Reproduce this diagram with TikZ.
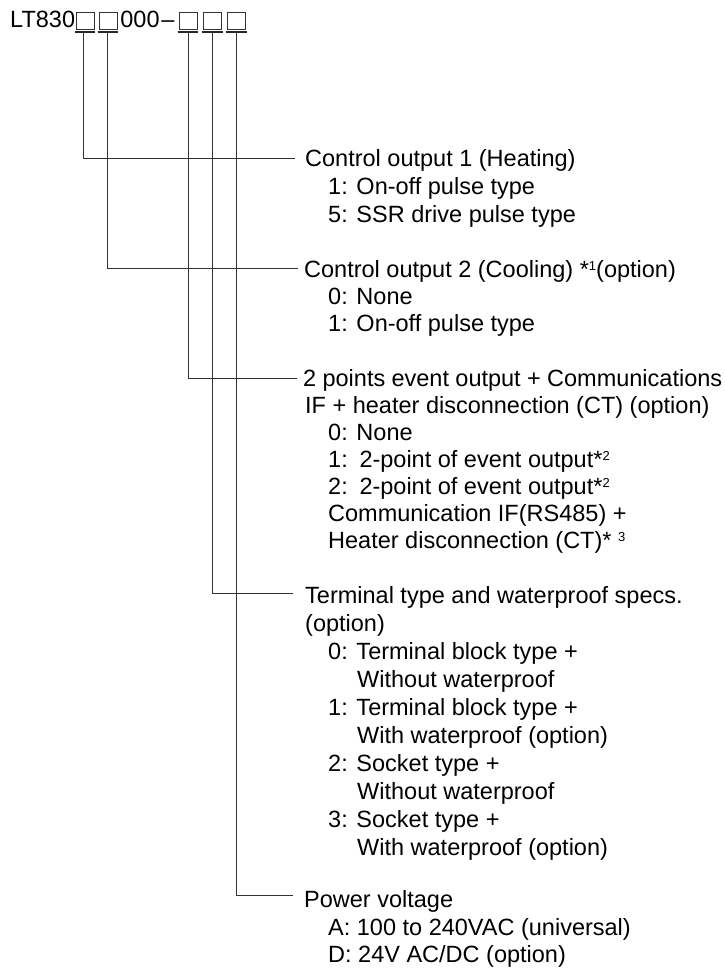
\documentclass[tikz,border=0pt]{standalone}
\usepackage{fontspec}
\setmainfont{Liberation Sans}
\newcommand\mysup[1]{\raisebox{7bp}{\fontsize{13bp}{13bp}\selectfont #1}}
\begin{document}
\begin{tikzpicture}[x=1bp,y=-1bp,
  txt/.style={anchor=base west,inner sep=0pt,font=\fontsize{23.5bp}{28bp}\selectfont,text=black},
  boxn/.style={draw=black!80,line width=0.9bp,minimum width=18bp,minimum height=17bp,inner sep=0pt},
  uline/.style={line width=2.2bp,black!85},
  conn/.style={line width=1bp,black!80}]
\useasboundingbox (0,0) rectangle (725,968);
% title
\node[txt] (lt) at (10,27.5) {LT830};
\node[boxn] (b1) at (85,20.5) {};
\node[boxn] (b2) at (108,20.5) {};
\node[txt,anchor=base] (zz) at (140,27.5) {000};
\node[txt,anchor=base] (dash) at (168,27.5) {–};
\node[boxn] (b3) at (188,20.5) {};
\node[boxn] (b4) at (212.5,20.5) {};
\node[boxn] (b5) at (236.5,20.5) {};
\foreach \b in {b1,b2,b3,b4,b5}
  \draw[uline] ([xshift=-1bp,yshift=-2.2bp]\b.south west) -- ([xshift=1bp,yshift=-2.2bp]\b.south east);
% block 1
\node[txt] (h1) at (305,166) {Control output 1 (Heating)};
\node[txt] (h1a) at (328,194) {1: On-off pulse type};
\node[txt] (h1b) at (328,222) {5: SSR drive pulse type};
% block 2
\node[txt] (h2) at (304,277) {Control output 2 (Cooling) *\mysup{1}(option)};
\node[txt] (h2a) at (328,304) {0: None};
\node[txt] (h2b) at (328,331) {1: On-off pulse type};
% block 3
\node[txt] (h3) at (303,386) {\makebox[419bp][s]{2 points event output + Communications}};
\node[txt] (h3x) at (305,413) {IF + heater disconnection (CT) (option)};
\node[txt] (h3a) at (328,440) {0: None};
\node[txt] (h3b) at (328,467) {1:\hspace{3bp} 2-point of event output*\mysup{2}};
\node[txt] (h3c) at (328,494) {2:\hspace{3bp} 2-point of event output*\mysup{2}};
\node[txt] (h3d) at (328,521) {Communication IF(RS485) +};
\node[txt] (h3e) at (328,548) {Heater disconnection (CT)* \mysup{3}};
% block 4
\node[txt] (h4) at (305,603) {Terminal type and waterproof specs.};
\node[txt] (h4x) at (305,631) {(option)};
\node[txt] (h4a) at (328,659) {0: Terminal block type +};
\node[txt] (h4b) at (357,687) {Without waterproof};
\node[txt] (h4c) at (328,715) {1: Terminal block type +};
\node[txt] (h4d) at (357,743) {With waterproof (option)};
\node[txt] (h4e) at (328,771) {2: Socket type +};
\node[txt] (h4f) at (357,799) {Without waterproof};
\node[txt] (h4g) at (328,827) {3: Socket type +};
\node[txt] (h4h) at (357,855) {With waterproof (option)};
% block 5
\node[txt] (h5) at (304,907) {Power voltage};
\node[txt] (h5a) at (328,935) {A: 100 to 240VAC (universal)};
\node[txt] (h5b) at (328,962) {D: 24V AC/DC (option)};
% connectors
\draw[conn] ([xshift=-2bp,yshift=-3bp]b1.south) |- ([xshift=-10bp,yshift=8bp]h1.base west);
\draw[conn] ([xshift=-1bp,yshift=-3bp]b2.south) |- ([xshift=-6bp,yshift=9bp]h2.base west);
\draw[conn] ([yshift=-3bp]b3.south) |- ([xshift=-6bp,yshift=8bp]h3.base west);
\draw[conn] ([yshift=-3bp]b4.south) |- ([xshift=-12bp,yshift=10bp]h4.base west);
\draw[conn] ([yshift=-3bp]b5.south) |- ([xshift=-11bp,yshift=12bp]h5.base west);
\end{tikzpicture}
\end{document}
